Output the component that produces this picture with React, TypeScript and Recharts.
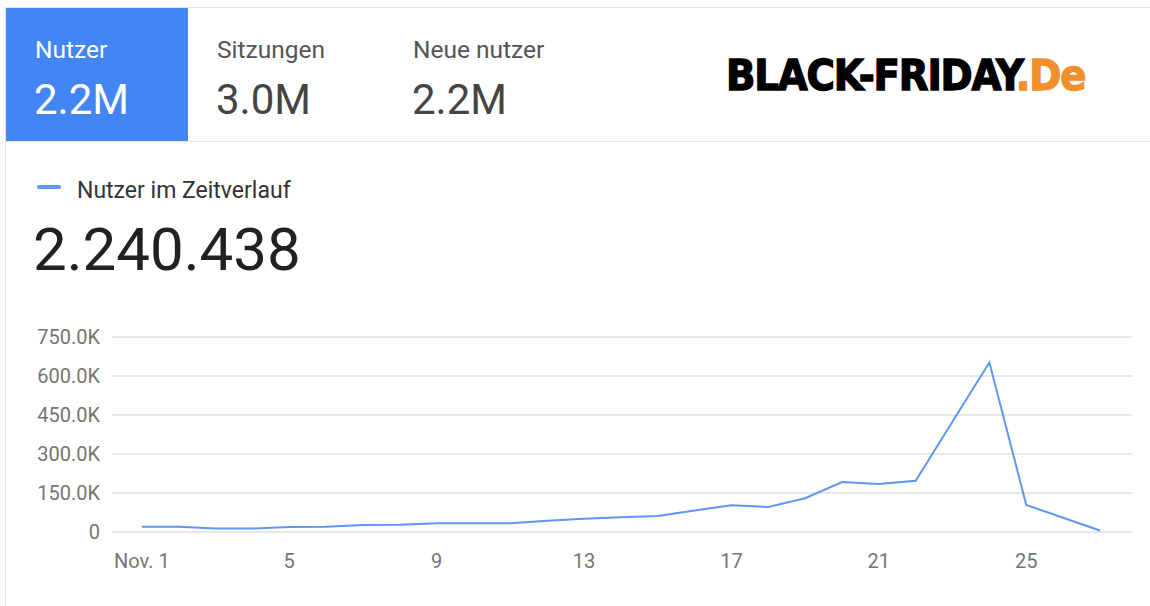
import { CartesianGrid, Line, LineChart, XAxis, YAxis } from 'recharts'

const days = [1, 2, 3, 4, 5, 6, 7, 8, 9, 10, 11, 12, 13, 14, 15, 16, 17, 18, 19, 20, 21, 22, 23, 24, 25, 26, 27]
const nutzer = [
  20000, 20000, 13000, 13000, 19000, 20000, 27000, 28000, 34000, 34000, 34000, 43000, 51000, 57000,
  62000, 83000, 103000, 96000, 130000, 192000, 185000, 197000, 425000, 652000, 104000, 55000, 6000
]
const xTicks = [1, 5, 9, 13, 17, 21, 25]
const yTicks = [0, 150000, 300000, 450000, 600000, 750000]

const tabs = [
  { label: 'Nutzer', value: '2.2M' },
  { label: 'Sitzungen', value: '3.0M' },
  { label: 'Neue nutzer', value: '2.2M' }
]
const tabX = [35, 217, 413]

const chartData = days.map((day, i) => ({ day, nutzer: nutzer[i] }))

const LINE_BLUE = '#5e97f6'
const FONT = 'Roboto, "Noto Sans", sans-serif'

function formatY(v: number) {
  if (v === 0) return '0'
  return (v / 1000).toFixed(1) + 'K'
}

function formatX(v: number) {
  return v === 1 ? 'Nov. 1' : String(v)
}

export default function App() {
  return (
    <div
      style={{
        position: 'absolute',
        left: 0,
        top: 0,
        width: 1150,
        height: 606,
        background: '#fff',
        fontFamily: FONT,
        overflow: 'hidden'
      }}
    >
      {/* frame lines */}
      <div style={{ position: 'absolute', left: 5, top: 7, width: 1145, height: 1, background: '#e3e3e3' }} />
      <div style={{ position: 'absolute', left: 5, top: 7, width: 1, height: 599, background: '#e3e3e3' }} />
      <div style={{ position: 'absolute', left: 5, top: 141, width: 1145, height: 1, background: '#e3e3e3' }} />

      {/* selected tab */}
      <div style={{ position: 'absolute', left: 6, top: 8, width: 182, height: 133, background: '#4285f4' }} />

      {tabs.map((t, i) => (
        <div key={t.label}>
          <div
            style={{
              position: 'absolute',
              left: tabX[i],
              top: 36,
              fontSize: 24.5,
              lineHeight: '28px',
              color: i === 0 ? '#fff' : '#555'
            }}
          >
            {t.label}
          </div>
          <div
            style={{
              position: 'absolute',
              left: tabX[i] - 1,
              top: 76,
              fontSize: 42,
              lineHeight: '48px',
              color: i === 0 ? '#fff' : '#444'
            }}
          >
            {t.value}
          </div>
        </div>
      ))}

      {/* logo */}
      <div
        style={{
          position: 'absolute',
          left: 726,
          top: 50,
          fontFamily: '"DejaVu Sans Condensed", "DejaVu Sans", sans-serif',
          fontWeight: 900,
          fontSize: 43,
          lineHeight: '50px',
          letterSpacing: -1.2,
          whiteSpace: 'nowrap',
          color: '#000',
          WebkitTextStroke: '1.3px #000'
        }}
      >
        BLACK-FRIDAY
        <span style={{ color: '#f0902c', WebkitTextStroke: '1.3px #f0902c' }}>.De</span>
      </div>

      {/* legend + total */}
      <div
        style={{ position: 'absolute', left: 37, top: 185, width: 24, height: 4, borderRadius: 2, background: LINE_BLUE }}
      />
      <div style={{ position: 'absolute', left: 77, top: 177, fontSize: 23, lineHeight: '28px', color: '#333' }}>
        Nutzer im Zeitverlauf
      </div>
      <div style={{ position: 'absolute', left: 33, top: 215, fontSize: 60, lineHeight: '70px', color: '#212121' }}>
        2.240.438
      </div>

      {/* chart */}
      <div style={{ position: 'absolute', left: 0, top: 320 }}>
        <LineChart width={1150} height={270} data={chartData} margin={{ top: 17, right: 18, bottom: 18, left: 0 }}>
          <CartesianGrid vertical={false} stroke="#e0e0e0" strokeWidth={1.5} />
          <XAxis
            dataKey="day"
            type="number"
            domain={[0.19, 27.87]}
            ticks={xTicks}
            tickFormatter={formatX}
            axisLine={false}
            tickLine={false}
            tickSize={0}
            tickMargin={22}
            height={40}
            tick={{ fill: '#757575', fontSize: 20, fontFamily: FONT }}
          />
          <YAxis
            type="number"
            domain={[0, 750000]}
            ticks={yTicks}
            tickFormatter={formatY}
            axisLine={false}
            tickLine={false}
            tickSize={0}
            tickMargin={12}
            width={112}
            tick={{ fill: '#757575', fontSize: 20, fontFamily: FONT }}
          />
          <Line
            type="linear"
            dataKey="nutzer"
            stroke={LINE_BLUE}
            strokeWidth={2}
            dot={false}
            activeDot={false}
            isAnimationActive={false}
          />
        </LineChart>
      </div>
    </div>
  )
}
